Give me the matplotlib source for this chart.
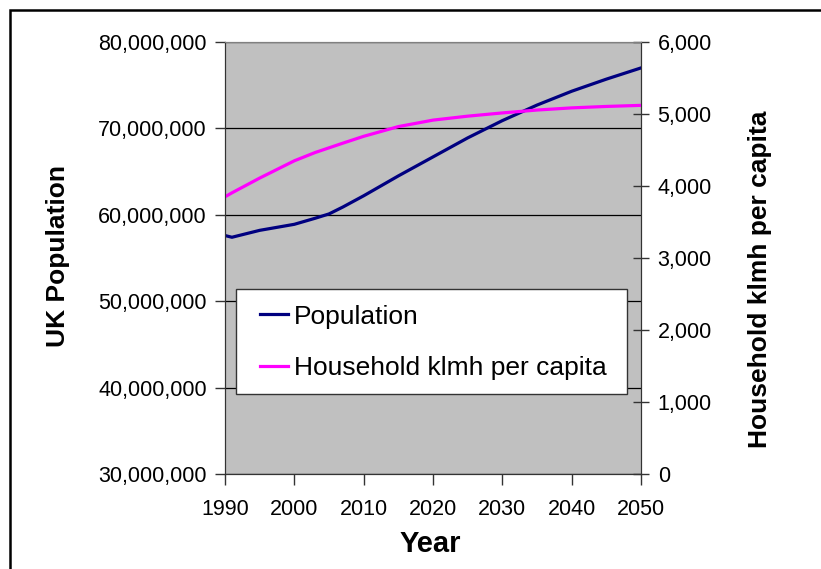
import matplotlib
matplotlib.use("Agg")
import matplotlib.pyplot as plt
from matplotlib.patches import Rectangle
from matplotlib.ticker import FuncFormatter

plt.rcParams['font.family'] = ['Liberation Sans', 'DejaVu Sans']

# values
years = [1990, 1991, 1995, 2000, 2003, 2005, 2007, 2010, 2015, 2020, 2025, 2030, 2035, 2040, 2045, 2050]
population = [57.6e6, 57.4e6, 58.2e6, 58.9e6, 59.6e6, 60.1e6, 60.9e6, 62.2e6, 64.5e6, 66.7e6,
              68.9e6, 70.9e6, 72.7e6, 74.3e6, 75.7e6, 77.0e6]
klmh_per_capita = [3850, 3905, 4110, 4350, 4465, 4530, 4595, 4690, 4825, 4915,
                   4970, 5015, 5055, 5085, 5105, 5120]

year_ticks = [1990, 2000, 2010, 2020, 2030, 2040, 2050]
pop_ticks = [30e6, 40e6, 50e6, 60e6, 70e6, 80e6]
klmh_ticks = [0, 1000, 2000, 3000, 4000, 5000, 6000]

fig = plt.figure(figsize=(8.21, 5.69), dpi=100)
ax = fig.add_axes([225/821, 1 - 474/569, 416/821, 432/569])
ax2 = ax.twinx()

ax.set_facecolor('#C0C0C0')
ax.plot(years, population, color='#000080', lw=2.3, label='Population')
ax2.plot(years, klmh_per_capita, color='#FF00FF', lw=2.3, label='Household klmh per capita')

ax.set_xlim(1990, 2050)
ax.set_ylim(30e6, 80e6)
ax2.set_ylim(0, 6000)
ax.set_xticks(year_ticks)
ax.set_yticks(pop_ticks)
ax2.set_yticks(klmh_ticks)
ax.yaxis.set_major_formatter(FuncFormatter(lambda v, p: f'{int(v):,}'))
ax2.yaxis.set_major_formatter(FuncFormatter(lambda v, p: f'{int(v):,}'))

ax.yaxis.grid(True, color='black', lw=0.9)
ax.set_axisbelow(True)

ax.tick_params(axis='x', direction='out', length=8, width=1, pad=10, labelsize=15.5, color='#333333')
ax.tick_params(axis='y', direction='out', length=7, width=1, pad=6, labelsize=15.5, color='#333333')
ax2.tick_params(axis='y', direction='inout', length=12, width=1, pad=6, labelsize=15.5, color='#333333')

for a in (ax, ax2):
    for s in ('left', 'right', 'bottom'):
        a.spines[s].set_color('#333333')
    a.spines['top'].set_color('#808080')

ax.set_xlabel('Year', fontsize=21, fontweight='bold', va='center')
ax.xaxis.set_label_coords(0.493, -0.163)
ax.set_ylabel('UK Population', fontsize=19, fontweight='bold', va='center')
ax.yaxis.set_label_coords(-0.401, 0.505)
ax2.set_ylabel('Household klmh per capita', fontsize=19, fontweight='bold', va='center', rotation=90)
ax2.yaxis.set_label_coords(1.286, 0.451)

# legend box
ax2.add_patch(Rectangle((11/416, 80/432), 391/416, 105/432, transform=ax2.transAxes,
                        facecolor='white', edgecolor='#333333', lw=1, zorder=5))
h1, l1 = ax.get_legend_handles_labels()
h2, l2 = ax2.get_legend_handles_labels()
leg = ax2.legend(h1 + h2, l1 + l2, loc='center left', bbox_to_anchor=(35/416, 0.3044),
                 frameon=False, fontsize=19, borderpad=0, borderaxespad=0,
                 handlelength=1.05, handletextpad=0.22, labelspacing=1.05)
leg.set_zorder(6)

# outer frame of the figure
fig.patches.append(Rectangle((10/821, -0.1), 1.2, 1.1 - 10/569, transform=fig.transFigure,
                             fill=False, edgecolor='black', lw=1.8))

fig.savefig('out.png', dpi=100)
